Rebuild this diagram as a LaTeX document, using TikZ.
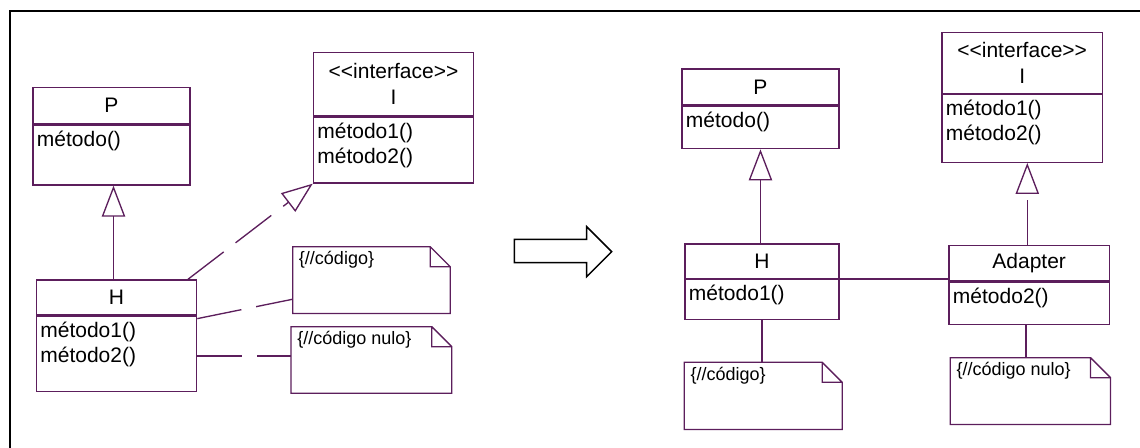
\documentclass[tikz,border=0pt]{standalone}
\usepackage{fontspec}
\newfontfamily\umlsans{Liberation Sans}
\usetikzlibrary{arrows.meta}
\definecolor{umlline}{RGB}{92,30,92}

\tikzset{
	classbox/.style={draw=umlline, line width=1pt, inner sep=0pt, anchor=north west},
	classname/.style={classbox, align=center, font=\umlsans\fontsize{15.75}{19.5}\selectfont},
	methods/.style={anchor=north west, align=left, inner xsep=3.3pt, inner ysep=4.5pt, font=\umlsans\fontsize{15.75}{18.75}\selectfont},
	notebox/.style={inner sep=0pt, anchor=north west},
	notetext/.style={anchor=north west, inner xsep=4.5pt, inner ysep=3.5pt, font=\umlsans\fontsize{13.5}{16}\selectfont},
	gen/.style={draw=umlline, line width=1pt, -{Triangle[open, length=23.25pt, width=17.5pt]}},
	real/.style={gen, dash pattern=on 33.75pt off 11.25pt},
	anchorline/.style={draw=umlline, line width=1pt, dash pattern=on 33.75pt off 11.25pt},
	assoc/.style={draw=umlline, line width=1pt}
}

\begin{document}
\begin{tikzpicture}[x=0.75pt, y=-0.75pt]
	\useasboundingbox (0,0) rectangle (1140,448);
	\draw[line width=1.5pt] (10,11) rectangle (1160,470);

	\node[classname, minimum width=117.75pt, minimum height=27.2pt] (Ph) at (32.3,86.7) {P};
	\node[classbox, minimum width=117.75pt, minimum height=45pt] (Pb) at (Ph.south west) {};
	\node[methods] (Pm) at (Pb.north west) {método()};

	\node[classname, minimum width=120.2pt, minimum height=47.5pt] (Ih) at (312.7,51.7) {<\kern0pt<interface>\kern0pt>\\I};
	\node[classbox, minimum width=120.2pt, minimum height=49.5pt] (Ib) at (Ih.south west) {};
	\node[methods] (Im) at (Ib.north west) {método1()\\método2()};

	\node[classname, minimum width=120.2pt, minimum height=26.25pt] (Hh) at (35.7,279.3) {H};
	\node[classbox, minimum width=120.2pt, minimum height=56.25pt] (Hb) at (Hh.south west) {};
	\node[methods] (Hm) at (Hb.north west) {método1()\\método2()};

	\node[notebox, minimum width=117.75pt, minimum height=49.7pt] (Na) at (292.7,246.7) {};
	\node[notetext] (Nat) at (Na.north west) {\{//código\}};
	\node[notebox, minimum width=120.2pt, minimum height=49.5pt] (Nb) at (291,326.7) {};
	\node[notetext] (Nbt) at (Nb.north west) {\{//código nulo\}};

	\coordinate (Hp) at ([xshift=-2.25pt]Hh.north);
	\draw[gen] (Hp) -- (Hp |- Pb.south);
	\draw[real] ([xshift=-7pt]Hh.north east) -- (Ib.south west);
	\draw[anchorline] ([yshift=-2.25pt]Hb.north east) -- ([yshift=10.7pt]Na.south west);
	\coordinate (Hc) at ([yshift=-30.3pt]Hb.north east);
	\draw[anchorline] (Hc) -- (Hc -| Nb.west);

	\draw[line width=1.1pt] (514.3,239.3) -- (586.7,239.3) -- (586.7,226.7) -- (611.7,251.7)
		-- (586.7,276.7) -- (586.7,262.7) -- (514.3,262.7) -- cycle;

	\node[classname, minimum width=117.75pt, minimum height=27pt] (P2h) at (681.3,68.3) {P};
	\node[classbox, minimum width=117.75pt, minimum height=31.8pt] (P2b) at (P2h.south west) {};
	\node[methods] (P2m) at (P2b.north west) {método()};

	\node[classname, minimum width=115.5pt, minimum height=25.8pt] (H2h) at (684.3,243.3) {H};
	\node[classbox, minimum width=115.5pt, minimum height=30pt] (H2b) at (H2h.south west) {};
	\node[methods] (H2m) at (H2b.north west) {método1()};

	\node[classname, minimum width=120.3pt, minimum height=45.75pt] (I2h) at (941.3,31.7) {<\kern0pt<interface>\kern0pt>\\I};
	\node[classbox, minimum width=120.3pt, minimum height=50.7pt] (I2b) at (I2h.south west) {};
	\node[methods] (I2m) at (I2b.north west) {método1()\\método2()};

	\node[classname, minimum width=120.3pt, minimum height=26.25pt] (Ah) at (948.3,245) {Adapter};
	\node[classbox, minimum width=120.3pt, minimum height=32pt] (Ab) at (Ah.south west) {};
	\node[methods] (Am) at (Ab.north west) {método2()};

	\node[notebox, minimum width=118pt, minimum height=50pt] (Nc) at (684.3,362.3) {};
	\node[notetext] (Nct) at (Nc.north west) {\{//código\}};
	\node[notebox, minimum width=119.8pt, minimum height=49.7pt] (Nd) at (950.3,357.7) {};
	\node[notetext] (Ndt) at (Nd.north west) {\{//código nulo\}};

	\coordinate (H2p) at (P2b.south |- H2h.north);
	\draw[gen] (H2p) -- (P2b.south);
	\draw[assoc] (H2b.north east) -- (H2b.north east -| Ab.west);
	\draw[assoc] (H2b.south) -- (H2b.south |- Nc.north);
	\coordinate (Ap) at ([xshift=-2.4pt]Ab.south);
	\draw[assoc] (Ap) -- (Ap |- Nd.north);
	\coordinate (Aq) at ([xshift=-1.4pt]Ah.north);
	\draw[real] (Aq) -- (Aq |- I2b.south);

	\foreach \n in {Na,Nb,Nc,Nd}
		\draw[umlline, line width=1pt] (\n.north west) -- ([xshift=-15pt]\n.north east) -- ([yshift=-15pt]\n.north east)
			-- (\n.south east) -- (\n.south west) -- cycle
			([xshift=-15pt]\n.north east) |- ([yshift=-15pt]\n.north east);
\end{tikzpicture}
\end{document}
